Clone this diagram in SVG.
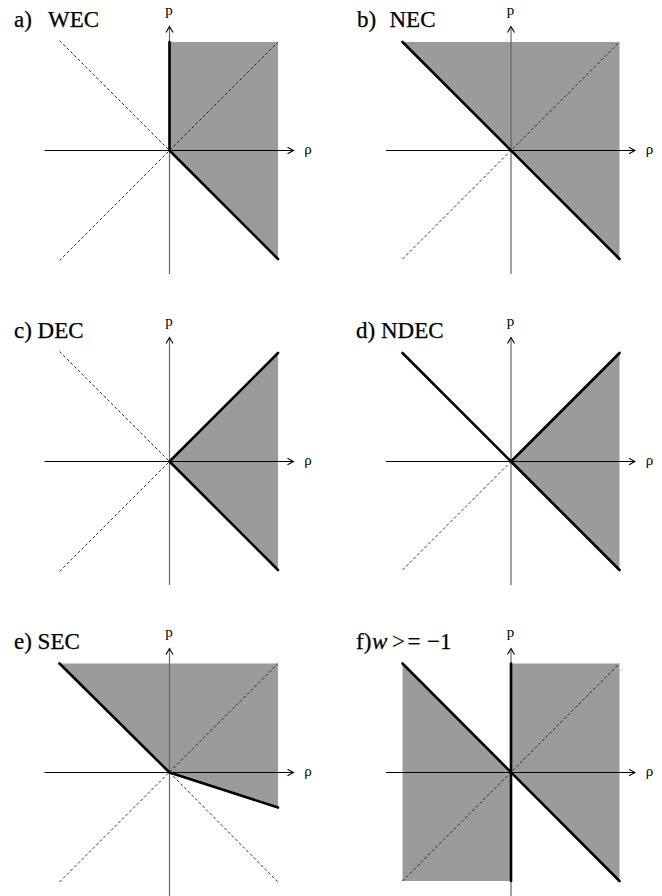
<svg xmlns="http://www.w3.org/2000/svg" width="662" height="896" viewBox="0 0 662 896">
<style>
.shade{fill:#9b9b9b;stroke:none}
.thick{fill:none;stroke:#000;stroke-width:2.6;stroke-linecap:round;stroke-linejoin:round}
.dash{fill:none;stroke:#1a1a1a;stroke-width:0.9;stroke-dasharray:3,2.2}
.hax{stroke:#000;stroke-width:1;fill:none}
.vax{stroke:#666;stroke-width:1.2;fill:none}
.title{font-family:"Liberation Serif","Times New Roman",serif;font-size:23px;fill:#000;stroke:#000;stroke-width:0.25}
.ax{font-family:"Liberation Serif","Times New Roman",serif;font-size:15px;fill:#000}
</style>
<defs>
<marker id="arr" viewBox="0 0 8 8" refX="7" refY="4" markerWidth="8" markerHeight="8" markerUnits="userSpaceOnUse" orient="auto">
<path d="M1,0.8 L7,4 L1,7.2" fill="none" stroke="#000" stroke-width="1.1"/>
</marker>
<g id="axes">
<line class="hax" x1="-125" y1="0" x2="124" y2="0" marker-end="url(#arr)"/>
<line class="vax" x1="0" y1="123.5" x2="0" y2="-123.5"/>
<path d="M-3.5,-118 L0,-124 L3.5,-118" fill="none" stroke="#000" stroke-width="1.1"/>
<text class="ax" x="-0.5" y="-136" text-anchor="middle">p</text>
<text class="ax" x="138.5" y="3" text-anchor="middle">ρ</text>
</g>
</defs>

<g id="panel-a" transform="translate(169.5,150.5)">
<polygon class="shade" points="0,-108.5 108.5,-108.5 108.5,108.5 0,0"/>
<line class="dash" x1="-110" y1="-110" x2="0" y2="0"/>
<line class="dash" x1="-110" y1="110" x2="108.5" y2="-108.5"/>
<use href="#axes"/>
<polyline class="thick" points="0,-108.5 0,0 108.5,108.5"/>
<text class="title" x="-155.5" y="-124">a)<tspan x="-121.5">WEC</tspan></text>
</g>

<g id="panel-b" transform="translate(511,150.5)">
<polygon class="shade" points="-108.5,-108.5 108.5,-108.5 108.5,108.5"/>
<line class="dash" x1="-108.5" y1="108.5" x2="108.5" y2="-108.5"/>
<use href="#axes"/>
<polyline class="thick" points="-108.5,-108.5 108.5,108.5"/>
<text class="title" x="-154" y="-124">b)<tspan x="-121.5">NEC</tspan></text>
</g>

<g id="panel-c" transform="translate(169.5,461.5)">
<polygon class="shade" points="0,0 108.5,-108.5 108.5,108.5"/>
<line class="dash" x1="-110" y1="-110" x2="0" y2="0"/>
<line class="dash" x1="-110" y1="110" x2="0" y2="0"/>
<use href="#axes"/>
<polyline class="thick" points="108.5,-108.5 0,0 108.5,108.5"/>
<text class="title" x="-155.5" y="-124">c) DEC</text>
</g>

<g id="panel-d" transform="translate(511,461.5)">
<polygon class="shade" points="0,0 108.5,-108.5 108.5,108.5"/>
<line class="dash" x1="-108.5" y1="108.5" x2="0" y2="0"/>
<use href="#axes"/>
<polyline class="thick" points="-108.5,-108.5 0,0 108.5,-108.5"/>
<polyline class="thick" points="0,0 108.5,108.5"/>
<text class="title" x="-155" y="-124">d) NDEC</text>
</g>

<g id="panel-e" transform="translate(169.5,772.5)">
<polygon class="shade" points="-110,-109 108.5,-109 108.5,35 0,0"/>
<line class="dash" x1="-110" y1="109.5" x2="108.5" y2="-109"/>
<line class="dash" x1="0" y1="0" x2="108.5" y2="109.5"/>
<use href="#axes"/>
<polyline class="thick" points="-110,-109 0,0 108.5,35"/>
<text class="title" x="-155.5" y="-124">e) SEC</text>
</g>

<g id="panel-f" transform="translate(511,772.5)">
<polygon class="shade" points="-108.5,-109 0,0 0,108.5 -108.5,108.5"/>
<polygon class="shade" points="0,-109 108.5,-109 108.5,108.5 0,0"/>
<line class="dash" x1="-108.5" y1="108.5" x2="108.5" y2="-109"/>
<use href="#axes"/>
<polyline class="thick" points="-108.5,-109 108.5,108.5"/>
<line class="thick" x1="0" y1="-109" x2="0" y2="108.5" stroke-linecap="butt"/>
<text class="title" x="-155" y="-124">f)<tspan x="-139" font-style="italic">w</tspan><tspan x="-119" letter-spacing="2.5">&gt;=</tspan><tspan x="-84">−1</tspan></text>
</g>
</svg>
